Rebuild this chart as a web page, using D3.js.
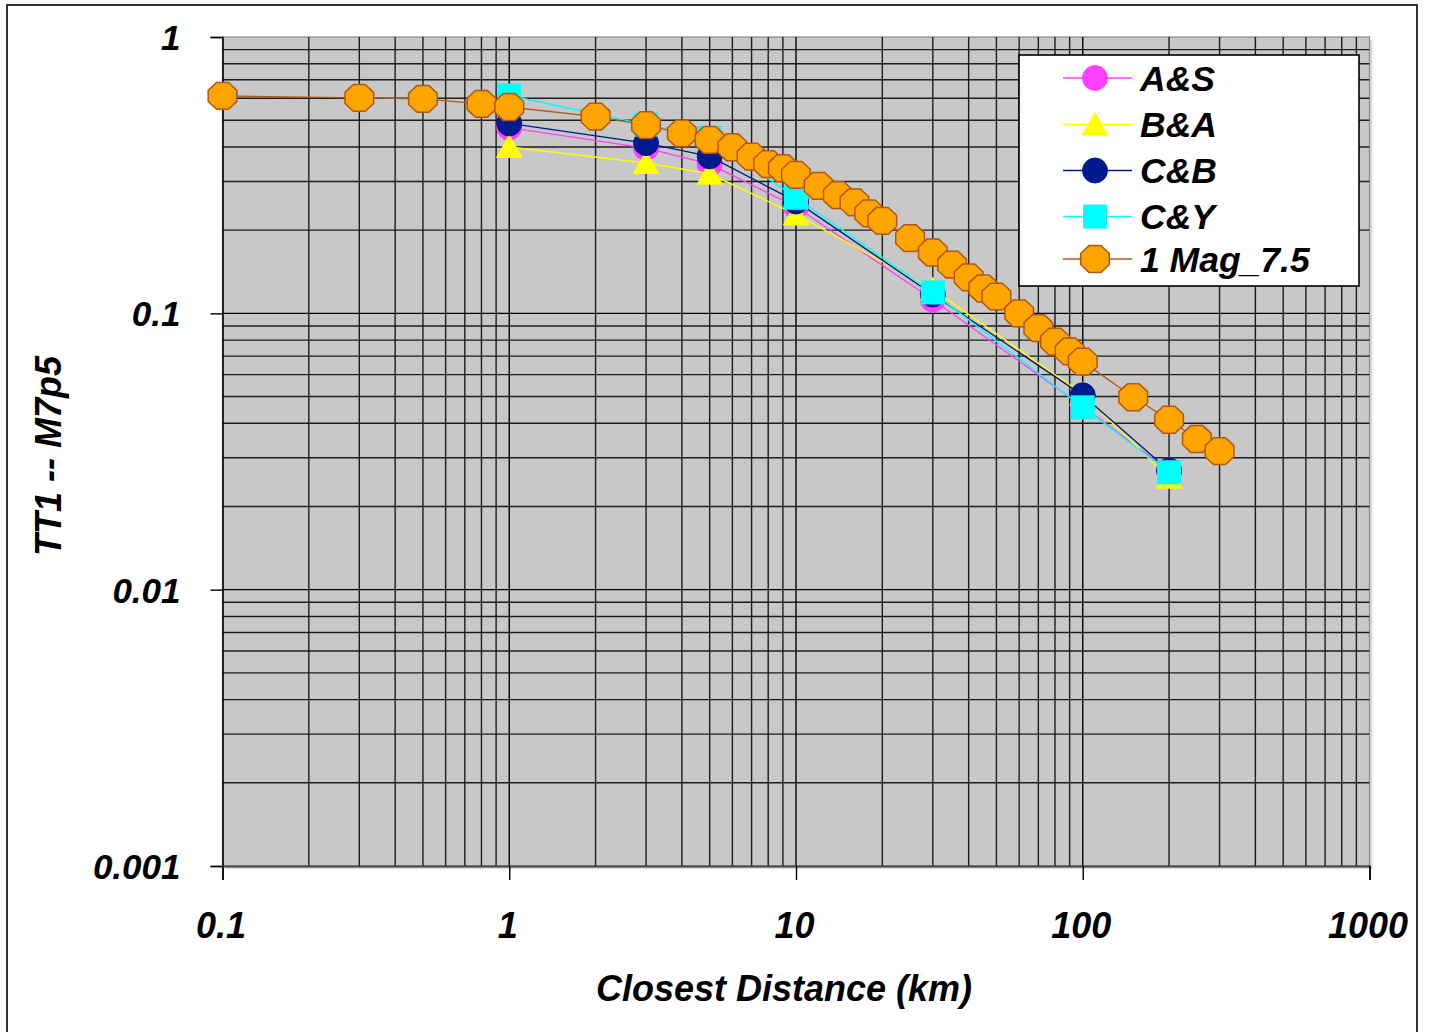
<!DOCTYPE html>
<html>
<head>
<meta charset="utf-8">
<script src="https://cdn.jsdelivr.net/npm/d3@7"></script>
<style>
  html, body { margin: 0; padding: 0; background: #fff; }
  svg { display: block; }
  text { font-family: "Liberation Sans", Arial, sans-serif; font-weight: bold; font-style: italic; fill: #000; }
</style>
</head>
<body>
<svg id="chart" width="1429" height="1032"></svg>
<script>
// Distances (km) of the single-magnitude run and its spectral values
const distMag = [0.1, 0.3, 0.5, 0.8, 1, 2, 3, 4, 5, 6, 7, 8, 9, 10, 12, 14, 16, 18, 20, 25, 30, 35, 40, 45, 50, 60, 70, 80, 90, 100, 150, 200, 250, 300];
const mag75 = [0.612, 0.602, 0.597, 0.573, 0.558, 0.515, 0.48, 0.448, 0.424, 0.399, 0.369, 0.347, 0.335, 0.317, 0.289, 0.268, 0.252, 0.230, 0.216, 0.187, 0.166, 0.150, 0.135, 0.123, 0.115, 0.100, 0.0884, 0.079, 0.0728, 0.0669, 0.0497, 0.0412, 0.0351, 0.0317];

// Distances (km) at which the attenuation relations are evaluated
const distModel = [1, 3, 5, 10, 30, 100, 200];
const valsAS = [0.47, 0.396, 0.347, 0.243, 0.112, 0.046, 0.027];
const valsBA = [0.40, 0.35, 0.32, 0.228, 0.122, 0.051, 0.0254];
const valsCB = [0.487, 0.413, 0.37, 0.254, 0.117, 0.0505, 0.027];
const valsCY = [0.614, 0.482, 0.431, 0.262, 0.119, 0.0457, 0.0266];

const seriesNames = ["A&S", "B&A", "C&B", "C&Y", "1 Mag_7.5"];
const xTickValues = [0.1, 1, 10, 100, 1000];
const xTickLabels = ["0.1", "1", "10", "100", "1000"];
const yTickValues = [0.001, 0.01, 0.1, 1];
const yTickLabels = ["0.001", "0.01", "0.1", "1"];
const xTitle = "Closest Distance (km)";
const yTitle = "TT1 -- M7p5";

const series = [
  { name: seriesNames[0], xs: distModel, ys: valsAS, fill: "#FF40FF", stroke: "#FF40FF", line: "#FF40FF", shape: "circle" },
  { name: seriesNames[1], xs: distModel, ys: valsBA, fill: "#FFFF00", stroke: "#FFFF00", line: "#FFFF00", shape: "triangle" },
  { name: seriesNames[2], xs: distModel, ys: valsCB, fill: "#00198F", stroke: "#00198F", line: "#00198F", shape: "circle" },
  { name: seriesNames[3], xs: distModel, ys: valsCY, fill: "#00FFFF", stroke: "#00FFFF", line: "#00FFFF", shape: "square" },
  { name: seriesNames[4], xs: distMag, ys: mag75, fill: "#FFA500", stroke: "#B4560F", line: "#B4561A", shape: "octagon" }
];

const svg = d3.select("#chart");
const plotL = 222.5, plotR = 1369.5, plotT = 37, plotB = 866;

const x = d3.scaleLog().domain([0.1, 1000]).range([plotL, plotR]);
const y = d3.scaleLog().domain([0.001, 1]).range([plotB, plotT]);

// outer chart frame
svg.append("rect").attr("x", 7).attr("y", 5).attr("width", 1410).attr("height", 1035)
  .attr("fill", "#fff").attr("stroke", "#000").attr("stroke-width", 1.6);

// plot area with soft drop shadow
svg.append("rect").attr("x", plotL + 3).attr("y", plotT + 3).attr("width", plotR - plotL).attr("height", plotB - plotT)
  .attr("fill", "#DADADA");
svg.append("rect").attr("x", plotL).attr("y", plotT).attr("width", plotR - plotL).attr("height", plotB - plotT)
  .attr("fill", "#C8C8C8").attr("stroke", "#8A8A8A").attr("stroke-width", 1.2);

// log grid: every integer multiple inside each decade
const isMajor = d => Math.abs(Math.log10(d) - Math.round(Math.log10(d))) < 1e-6;
const grid = svg.append("g");
const xGrid = [], yGrid = [];
for (let e = -1; e < 3; e++) for (let m = 1; m < 10; m++) xGrid.push(m * Math.pow(10, e));
for (let e = -3; e < 0; e++) for (let m = 1; m < 10; m++) yGrid.push(m * Math.pow(10, e));
grid.selectAll("line.vx").data(xGrid.filter(v => v > 0.1 + 1e-9)).enter().append("line")
  .attr("x1", d => x(d)).attr("x2", d => x(d)).attr("y1", plotT).attr("y2", plotB)
  .attr("stroke", d => (isMajor(d) ? "#000" : "#1c1c1c"))
  .attr("stroke-width", 1.4);
grid.selectAll("line.hy").data(yGrid.filter(v => v > 0.001 + 1e-12)).enter().append("line")
  .attr("y1", d => y(d)).attr("y2", d => y(d)).attr("x1", plotL).attr("x2", plotR)
  .attr("stroke", d => (isMajor(d) ? "#000" : "#1c1c1c"))
  .attr("stroke-width", 1.4);

// axes
const yAxis = d3.axisLeft(y).tickValues(yTickValues).tickSize(12).tickPadding(32)
  .tickFormat((d, i) => yTickLabels[i]);
const gy = svg.append("g").attr("transform", `translate(${plotL},0)`).call(yAxis);
gy.select(".domain").attr("stroke", "#000").attr("stroke-width", 1.6);
gy.selectAll(".tick line").attr("stroke", "#000").attr("stroke-width", 1.4);
gy.selectAll(".tick text").style("font-size", "35px").attr("dy", "0.36em").attr("x", -42);

const xAxis = d3.axisBottom(x).tickValues(xTickValues).tickSize(14).tickPadding(40)
  .tickFormat((d, i) => xTickLabels[i]);
const gx = svg.append("g").attr("transform", `translate(0,${plotB})`).call(xAxis);
gx.select(".domain").attr("stroke", "#444").attr("stroke-width", 2);
gx.selectAll(".tick line").attr("stroke", "#000").attr("stroke-width", 1.4);
gx.selectAll(".tick text").style("font-size", "36px").attr("y", 72).attr("dy", 0).attr("x", -2);

// axis titles
svg.append("text").attr("x", 784).attr("y", 1001).attr("text-anchor", "middle")
  .style("font-size", "36px").text(xTitle);
svg.append("text").attr("transform", "translate(61,456) rotate(-90)").attr("text-anchor", "middle")
  .style("font-size", "36px").text(yTitle);

// marker shapes
function octagon(rx, ry) {
  const pts = d3.range(8).map(k => {
    const a = Math.PI / 8 + k * Math.PI / 4;
    return [rx * Math.cos(a), ry * Math.sin(a)];
  });
  return "M" + pts.map(p => p.join(",")).join("L") + "Z";
}
function drawMarker(g, shape, s) {
  if (shape === "circle") {
    g.append("circle").attr("r", 12.5).attr("fill", s.fill).attr("stroke", s.stroke).attr("stroke-width", 1);
  } else if (shape === "square") {
    g.append("rect").attr("x", -12).attr("y", -12).attr("width", 24).attr("height", 24).attr("fill", s.fill);
  } else if (shape === "triangle") {
    g.append("path").attr("d", "M0,-13L13.5,11L-13.5,11Z").attr("fill", s.fill);
  } else {
    g.append("path").attr("d", octagon(15.5, 14.5)).attr("fill", s.fill)
      .attr("stroke", s.stroke).attr("stroke-width", 1.5);
  }
}

// series: lines and markers
const plot = svg.append("g");
const lineGen = d3.line().x(d => x(d[0])).y(d => y(d[1]));
series.forEach(s => {
  const pts = s.xs.map((v, i) => [v, s.ys[i]]);
  const g = plot.append("g");
  g.append("path").attr("d", lineGen(pts)).attr("fill", "none")
    .attr("stroke", s.line).attr("stroke-width", 1.4);
  g.selectAll("g.mk").data(pts).enter().append("g")
    .attr("transform", d => `translate(${x(d[0])},${y(d[1])})`)
    .each(function () { drawMarker(d3.select(this), s.shape, s); });
});

// legend
const lg = svg.append("g");
lg.append("rect").attr("x", 1019).attr("y", 55).attr("width", 340).attr("height", 231)
  .attr("fill", "#fff").attr("stroke", "#000").attr("stroke-width", 1.6);
const legendY = [78, 124.5, 170.5, 216.5, 259];
series.forEach((s, i) => {
  const gi = lg.append("g").attr("transform", `translate(0,${legendY[i]})`);
  gi.append("line").attr("x1", 1063).attr("x2", 1132).attr("y1", 0).attr("y2", 0)
    .attr("stroke", s.line).attr("stroke-width", 1.4);
  const m = gi.append("g").attr("transform", "translate(1095,0)");
  drawMarker(m, s.shape, s);
  gi.append("text").attr("x", 1140).attr("y", 12.5).style("font-size", "35.5px").text(s.name);
});
</script>
</body>
</html>
